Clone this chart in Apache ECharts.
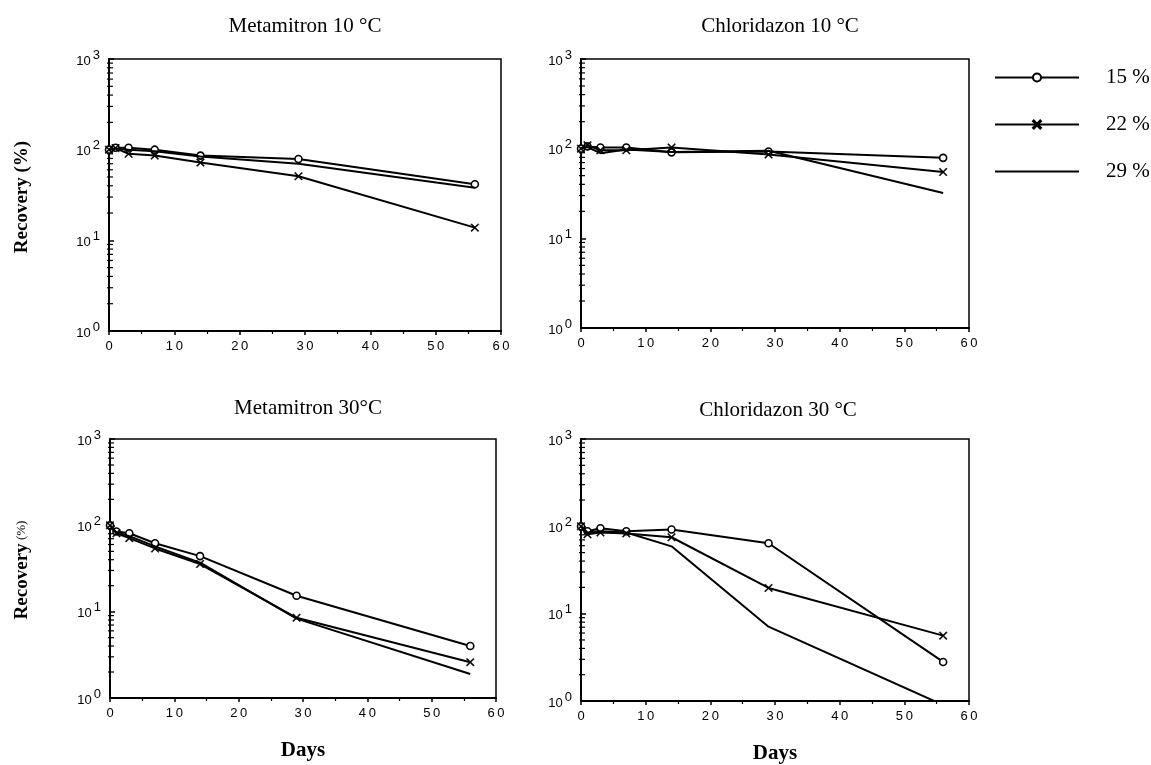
<!DOCTYPE html>
<html>
<head>
<meta charset="utf-8">
<script src="https://cdn.jsdelivr.net/npm/echarts@6/dist/echarts.min.js"></script>
<style>
  html, body { margin: 0; padding: 0; background: #fff; }
  #chart { width: 1151px; height: 765px; }
</style>
</head>
<body>
<div id="chart"></div>
<script>
// ---------------- DATA ----------------
const days = [0, 1, 3, 7, 14, 29, 56];
const seriesNames = ['15 %', '22 %', '29 %'];
const panelTitles = ['Metamitron 10 °C', 'Chloridazon 10 °C', 'Metamitron 30°C', 'Chloridazon 30 °C'];
const xAxisName = 'Days';
const yAxisName = 'Recovery';
const yAxisUnit = '(%)';
const xTickValues = [0, 10, 20, 30, 40, 50, 60];
const yTickExponents = [0, 1, 2, 3];

// Metamitron 10 °C
const metamitron10_15 = [100, 105, 105, 100, 86, 79, 41.5];
const metamitron10_22 = [100, 104, 90, 86, 72, 51, 13.8];
const metamitron10_29 = [100, 103, 100, 96, 84, 70, 38];
// Chloridazon 10 °C
const chloridazon10_15 = [100, 106, 103, 103, 91, 93, 79];
const chloridazon10_22 = [100, 109, 96, 96, 103, 86, 55];
const chloridazon10_29 = [100, 104, 89, 98, 92, 95, 32];
// Metamitron 30 °C
const metamitron30_15 = [100, 85, 81, 62, 44, 15.3, 4.0];
const metamitron30_22 = [100, 81, 71, 54, 35.6, 8.5, 2.6];
const metamitron30_29 = [100, 83, 75, 57, 37, 8.3, 1.9];
// Chloridazon 30 °C
const chloridazon30_15 = [100, 88, 95, 88, 92, 64, 2.8];
const chloridazon30_22 = [100, 81, 85, 83, 75, 19.7, 5.6];
const chloridazon30_29 = [100, 85, 88, 85, 59, 7.1, 0.9];

const panelData = [
  [metamitron10_15, metamitron10_22, metamitron10_29],
  [chloridazon10_15, chloridazon10_22, chloridazon10_29],
  [metamitron30_15, metamitron30_22, metamitron30_29],
  [chloridazon30_15, chloridazon30_22, chloridazon30_29]
];

// ---------------- LAYOUT / STYLE ----------------
const grids = [
  { left: 109, top: 59, width: 392, height: 272 },
  { left: 581, top: 59, width: 388, height: 269 },
  { left: 110, top: 439, width: 386, height: 259 },
  { left: 581, top: 439, width: 388, height: 264 }
];
const titlePos = [[300, 11], [775, 11], [303, 393], [773, 395]];

const SERIF = "'Liberation Serif', 'DejaVu Serif', serif";
const SANS = "'Liberation Sans', 'DejaVu Sans', sans-serif";
const crossPath = 'path://M0,1L1,0L5,4L9,0L10,1L6,5L10,9L9,10L5,6L1,10L0,9L4,5Z';

const symbolStyles = [
  { symbol: 'circle', symbolSize: 7, showSymbol: true,
    itemStyle: { color: '#fff', borderColor: '#000', borderWidth: 1.6 } },
  { symbol: crossPath, symbolSize: 8, showSymbol: true,
    itemStyle: { color: '#000', borderColor: '#000', borderWidth: 0.5 } },
  { symbol: 'circle', symbolSize: 6, showSymbol: false,
    itemStyle: { color: 'rgba(0,0,0,0)', borderColor: 'rgba(0,0,0,0)', borderWidth: 0 } }
];

// minor log ticks (2..9 per decade)
const minorTickValues = [];
[1, 10, 100].forEach(d => { for (let k = 2; k <= 9; k++) minorTickValues.push(k * d); });

const xAxes = [], yAxes = [], series = [], titles = [];
grids.forEach((g, i) => {
  const isBottom = i >= 2;
  xAxes.push({
    type: 'value', gridIndex: i, min: 0, max: 60, interval: 10,
    axisLine: { show: true, onZero: false, lineStyle: { color: '#000', width: 2 } },
    axisTick: { show: true, inside: false, length: 4, lineStyle: { color: '#000', width: 1.5 } },
    minorTick: { show: true, splitNumber: 2, length: 3, lineStyle: { color: '#000', width: 1.2 } },
    splitLine: { show: false },
    axisLabel: {
      color: '#000', fontFamily: SANS, fontSize: 13, margin: 9,
      formatter: v => String(v).split('').join('\u2009')
    },
    name: isBottom ? xAxisName : '',
    nameLocation: 'middle', nameGap: 42,
    nameTextStyle: { color: '#000', fontFamily: SERIF, fontWeight: 'bold', fontSize: 21 }
  });
  yAxes.push({
    type: 'log', logBase: 10, gridIndex: i, min: 1, max: 1000,
    axisLine: { show: true, onZero: false, lineStyle: { color: '#000', width: 2 } },
    axisTick: { show: true, inside: true, length: 5, lineStyle: { color: '#000', width: 1.5 } },
    splitLine: { show: false },
    axisLabel: {
      color: '#000', fontFamily: SANS, fontSize: 13, margin: 9,
      formatter: v => '{b|10}{s|' + Math.round(Math.log10(v)) + '}',
      rich: {
        b: { fontFamily: SANS, fontSize: 13, color: '#000', padding: [4, 0, 0, 0] },
        s: { fontFamily: SANS, fontSize: 13, color: '#000', padding: [0, 0, 8, 2] }
      }
    }
  });
  titles.push({
    text: panelTitles[i], left: titlePos[i][0], top: titlePos[i][1], textAlign: 'center',
    textStyle: { color: '#000', fontFamily: SERIF, fontWeight: 'normal', fontSize: 21 }
  });
  panelData[i].forEach((vals, s) => {
    const st = symbolStyles[s];
    series.push({
      name: seriesNames[s], type: 'line', xAxisIndex: i, yAxisIndex: i,
      data: days.map((d, k) => [d, vals[k]]),
      symbol: st.symbol, symbolSize: st.symbolSize, showSymbol: st.showSymbol,
      itemStyle: st.itemStyle,
      lineStyle: { color: '#000', width: 2 },
      clip: true, z: 3 + s
    });
  });
  series.push({
    type: 'custom', xAxisIndex: i, yAxisIndex: i, silent: true, z: 10,
    data: minorTickValues.map(v => [0, v]),
    encode: { x: 0, y: 1 },
    renderItem: (params, api) => {
      const p = api.coord([0, api.value(1)]);
      return { type: 'line', shape: { x1: p[0] - 2, y1: p[1], x2: p[0] + 4, y2: p[1] },
               style: { stroke: '#000', lineWidth: 1.2 } };
    }
  });
});

const option = {
  animation: false,
  backgroundColor: '#fff',
  title: titles,
  grid: grids.map(g => Object.assign({ show: true, borderColor: '#000', borderWidth: 1.5, backgroundColor: 'transparent' }, g)),
  xAxis: xAxes,
  yAxis: yAxes,
  legend: {
    data: seriesNames,
    orient: 'vertical', left: 989, top: 62,
    itemWidth: 84, itemHeight: 10, itemGap: 26,
    textStyle: { color: '#000', fontFamily: SERIF, fontSize: 21, padding: [0, 0, 0, 22] },
    selectedMode: false
  },
  graphic: [
    { type: 'text', x: 22, y: 197, rotation: Math.PI / 2,
      style: { text: yAxisName + ' ' + yAxisUnit, fontFamily: SERIF, fontWeight: 'bold', fontSize: 19,
               fill: '#000', align: 'center', verticalAlign: 'middle' } },
    { type: 'text', x: 22, y: 570, rotation: Math.PI / 2,
      style: { text: '{a|' + yAxisName + '} {u|' + yAxisUnit + '}', fill: '#000', align: 'center', verticalAlign: 'middle',
               rich: { a: { fontFamily: SERIF, fontWeight: 'bold', fontSize: 19, fill: '#000' },
                       u: { fontFamily: SERIF, fontSize: 13, fill: '#000' } } } }
  ],
  series: series
};

const chart = echarts.init(document.getElementById('chart'), null, { renderer: 'canvas' });
chart.setOption(option);
</script>
</body>
</html>
